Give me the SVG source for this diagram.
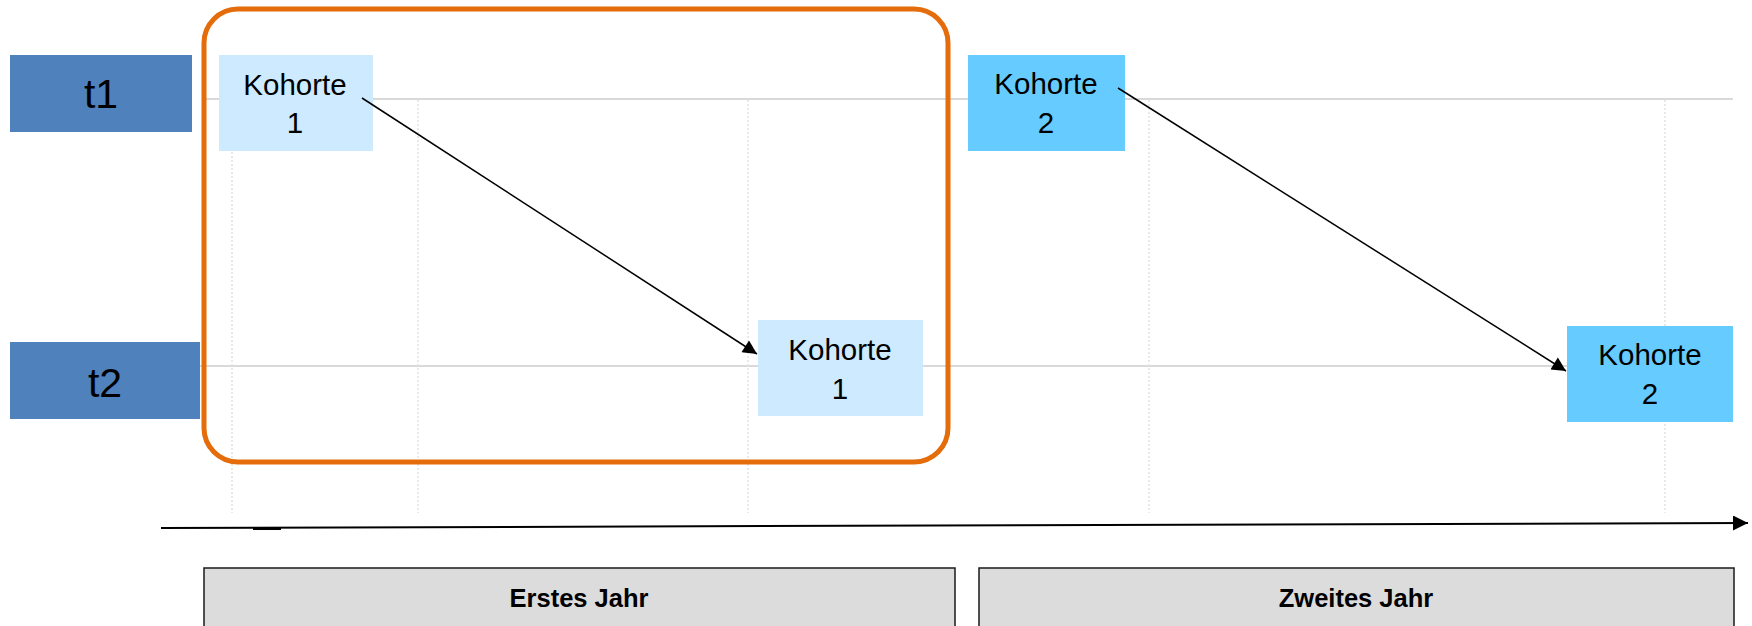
<svg xmlns="http://www.w3.org/2000/svg" width="1752" height="626" viewBox="0 0 1752 626">
  <style>
    .grid-h { stroke: #d9d9d9; stroke-width: 2; fill: none; }
    .grid-v { stroke: #e4e4da; stroke-width: 1.5; stroke-dasharray: 2 2; fill: none; }
    .tbox { fill: #4f81bd; }
    .tlabel { font-family: "Liberation Sans", Arial, sans-serif; font-size: 41px; fill: #000; text-anchor: middle; }
    .k1 { fill: #cdeafe; }
    .k2 { fill: #66ccff; }
    .klabel { font-family: "Liberation Sans", Arial, sans-serif; font-size: 29.5px; fill: #000; text-anchor: middle; }
    .year { fill: #dcdcdc; stroke: #1a1a1a; stroke-width: 1.5; }
    .ylabel { font-family: "Liberation Sans", Arial, sans-serif; font-size: 25.5px; font-weight: bold; fill: #000; text-anchor: middle; }
    .conn { stroke: #000; stroke-width: 1.5; fill: none; }
  </style>
  <defs>
    <marker id="arrow" viewBox="0 0 10 10" refX="10" refY="5" markerWidth="17" markerHeight="14" markerUnits="userSpaceOnUse" orient="auto">
      <path d="M0,0 L10,5 L0,10 z" fill="#000"/>
    </marker>
    <marker id="arrowBig" viewBox="0 0 10 10" refX="10" refY="5" markerWidth="17" markerHeight="15" markerUnits="userSpaceOnUse" orient="auto">
      <path d="M0,0 L10,5 L0,10 z" fill="#000"/>
    </marker>
  </defs>

  <rect width="1752" height="626" fill="#ffffff"/>

  <!-- background grid -->
  <g id="grid">
    <line class="grid-h" x1="204" y1="99" x2="1733" y2="99"/>
    <line class="grid-h" x1="200" y1="366" x2="1733" y2="366"/>
    <line class="grid-v" x1="232" y1="100" x2="232" y2="513"/>
    <line class="grid-v" x1="418" y1="100" x2="418" y2="513"/>
    <line class="grid-v" x1="748" y1="100" x2="748" y2="513"/>
    <line class="grid-v" x1="1149" y1="100" x2="1149" y2="513"/>
    <line class="grid-v" x1="1665" y1="100" x2="1665" y2="513"/>
  </g>

  <!-- time axis -->
  <g id="axis">
    <line x1="161" y1="528" x2="1748" y2="523" stroke="#000" stroke-width="2" marker-end="url(#arrowBig)"/>
    <line x1="253" y1="528.5" x2="281" y2="528.5" stroke="#000" stroke-width="3"/>
  </g>

  <!-- time labels -->
  <g id="t1">
    <rect class="tbox" x="10" y="55" width="182" height="77"/>
    <text class="tlabel" x="101" y="108">t1</text>
  </g>
  <g id="t2">
    <rect class="tbox" x="10" y="342" width="190" height="77"/>
    <text class="tlabel" x="105" y="397">t2</text>
  </g>

  <!-- highlight frame around the first year -->
  <g id="highlight">
    <rect x="204" y="9" width="744" height="453" rx="34" ry="34" fill="none" stroke="#e46c0a" stroke-width="5"/>
  </g>

  <!-- cohorts -->
  <g id="kohorte1-t1">
    <rect class="k1" x="219" y="55" width="154" height="96"/>
    <text class="klabel" x="295" y="95">Kohorte</text>
    <text class="klabel" x="295" y="133">1</text>
  </g>
  <g id="kohorte1-t2">
    <rect class="k1" x="758" y="320" width="165" height="96"/>
    <text class="klabel" x="840" y="360">Kohorte</text>
    <text class="klabel" x="840" y="399">1</text>
  </g>
  <g id="kohorte2-t1">
    <rect class="k2" x="968" y="55" width="157" height="96"/>
    <text class="klabel" x="1046" y="94">Kohorte</text>
    <text class="klabel" x="1046" y="133">2</text>
  </g>
  <g id="kohorte2-t2">
    <rect class="k2" x="1567" y="326" width="166" height="96"/>
    <text class="klabel" x="1650" y="365">Kohorte</text>
    <text class="klabel" x="1650" y="404">2</text>
  </g>

  <!-- connectors -->
  <g id="connectors">
    <line class="conn" x1="362" y1="98" x2="757" y2="354" marker-end="url(#arrow)"/>
    <line class="conn" x1="1118" y1="88" x2="1566" y2="371" marker-end="url(#arrow)"/>
  </g>

  <!-- years -->
  <g id="erstes-jahr">
    <rect class="year" x="204" y="568" width="751" height="70"/>
    <text class="ylabel" x="579" y="607">Erstes Jahr</text>
  </g>
  <g id="zweites-jahr">
    <rect class="year" x="979" y="568" width="755" height="70"/>
    <text class="ylabel" x="1356" y="607">Zweites Jahr</text>
  </g>
</svg>
